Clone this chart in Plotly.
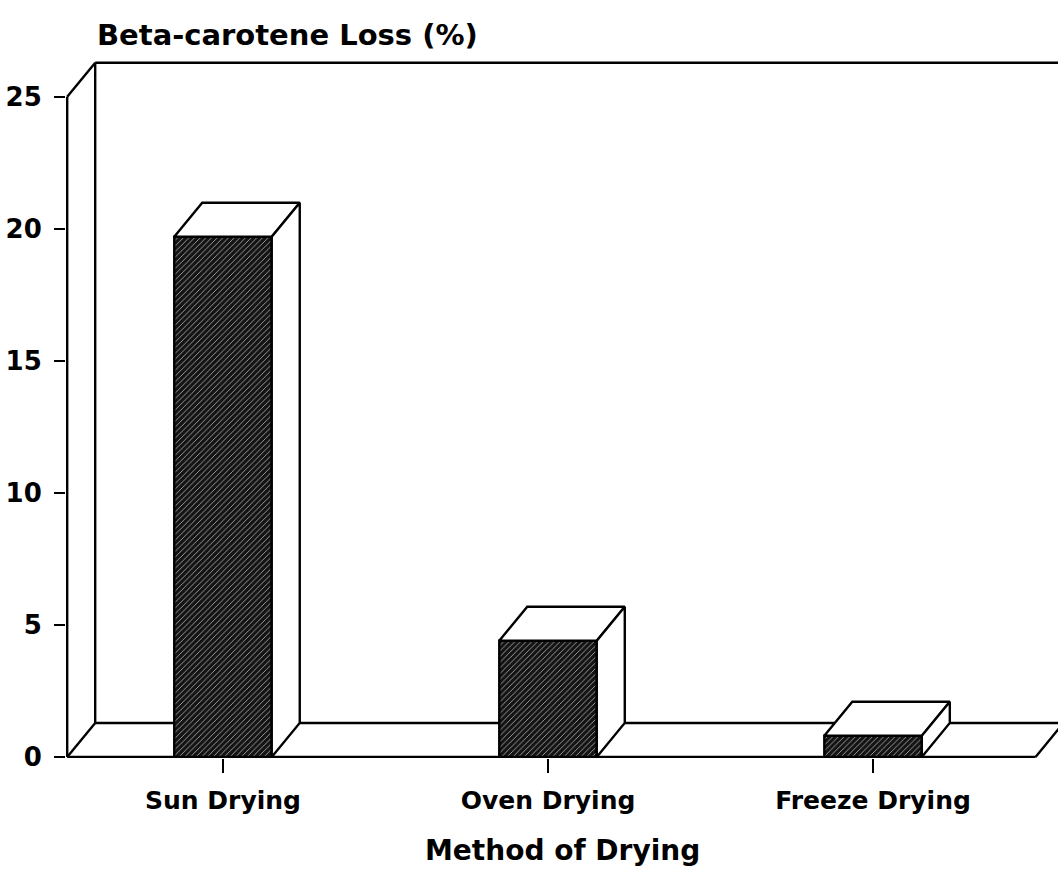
import plotly.graph_objects as go

# Beta-carotene loss by drying method
methods = ["Sun Drying", "Oven Drying", "Freeze Drying"]
loss_pct = [19.7, 4.4, 0.8]
y_ticks = [0, 5, 10, 15, 20, 25]

# Canvas and plot-area geometry
W, H = 1058, 878
L_M, R_M, T_M, B_M = 66, 0, 44, 120
Y_RANGE = [-0.04, 27.0]
X_RANGE = [-0.483, 2.569]
plot_w = W - L_M - R_M
plot_h = H - T_M - B_M
px_x = plot_w / (X_RANGE[1] - X_RANGE[0])
px_y = plot_h / (Y_RANGE[1] - Y_RANGE[0])

# Oblique depth offset of the pseudo-3D boxes (in pixels -> data units)
DX = 28 / px_x
DY = 34 / px_y
BAR_W = 0.3
X0 = X_RANGE[0] + 1.2 / px_x      # left axis line
X_END = 2.5                       # right end of the floor front edge
X_FAR = X_RANGE[1] + 0.2
TOP = y_ticks[-1]
xs = list(range(len(methods)))

LINE = dict(color="black", width=2.4)

fig = go.Figure()

# Front faces of the bars (hatched)
fig.add_trace(go.Bar(
    x=xs, y=loss_pct, width=BAR_W,
    marker=dict(
        color="#141414",
        line=dict(color="black", width=2.4),
        pattern=dict(shape="/", fillmode="replace", bgcolor="#141414",
                     fgcolor="#a8a8a8", size=4, solidity=0.22),
    ),
    hoverinfo="skip", showlegend=False,
))

# Top and side faces of each bar
for xi, v in zip(xs, loss_pct):
    xl, xr = xi - BAR_W / 2, xi + BAR_W / 2
    fig.add_trace(go.Scatter(
        x=[xl, xl + DX, xr + DX, xr, xl],
        y=[v, v + DY, v + DY, v, v],
        mode="lines", fill="toself", fillcolor="white", line=LINE,
        hoverinfo="skip", showlegend=False,
    ))
    fig.add_trace(go.Scatter(
        x=[xr, xr, xr + DX, xr + DX, xr],
        y=[0, v, v + DY, DY, 0],
        mode="lines", fill="toself", fillcolor="white", line=LINE,
        hoverinfo="skip", showlegend=False,
    ))

# Back wall, floor and axis frame
frame = [
    (X0, 0, X0, TOP),
    (X0, TOP, X0 + DX, TOP + DY),
    (X0 + DX, DY, X0 + DX, TOP + DY),
    (X0 + DX, TOP + DY, X_FAR, TOP + DY),
    (X0, 0, X0 + DX, DY),
    (X0 + DX, DY, X_FAR, DY),
    (X0, 0, X_END, 0),
    (X_END, 0, X_END + DX, DY),
]
for x_a, y_a, x_b, y_b in frame:
    fig.add_shape(type="line", xref="x", yref="y", x0=x_a, y0=y_a,
                  x1=x_b, y1=y_b, line=LINE, layer="below")

FONT = "DejaVu Sans"

fig.add_annotation(
    text="Beta-carotene Loss (%)", xref="paper", yref="paper",
    x=(95 - L_M) / plot_w, y=(T_M + plot_h - 35) / plot_h,
    xanchor="left", yanchor="middle", showarrow=False,
    font=dict(family=FONT, size=29, color="black", weight="bold"),
)
fig.add_annotation(
    text="Method of Drying", xref="paper", yref="paper",
    x=0.5, y=(T_M + plot_h - 850) / plot_h,
    xanchor="center", yanchor="middle", showarrow=False,
    font=dict(family=FONT, size=28, color="black", weight="bold"),
)

fig.update_layout(
    width=W, height=H,
    margin=dict(l=L_M, r=R_M, t=T_M, b=B_M),
    paper_bgcolor="white", plot_bgcolor="white",
    showlegend=False,
    xaxis=dict(
        range=X_RANGE, tickmode="array", tickvals=xs, ticktext=methods,
        ticks="outside", ticklen=14, tickwidth=2, tickcolor="black",
        showgrid=False, zeroline=False, showline=False,
        tickfont=dict(family=FONT, size=25, color="black", weight="bold"),
        ticklabelstandoff=6,
    ),
    yaxis=dict(
        range=Y_RANGE, tickmode="array", tickvals=y_ticks,
        ticks="outside", ticklen=11, tickwidth=2, tickcolor="black",
        showgrid=False, zeroline=False, showline=False,
        tickfont=dict(family=FONT, size=26, color="black", weight="bold"),
        ticklabelstandoff=7,
    ),
)

fig.write_html("out.html")
